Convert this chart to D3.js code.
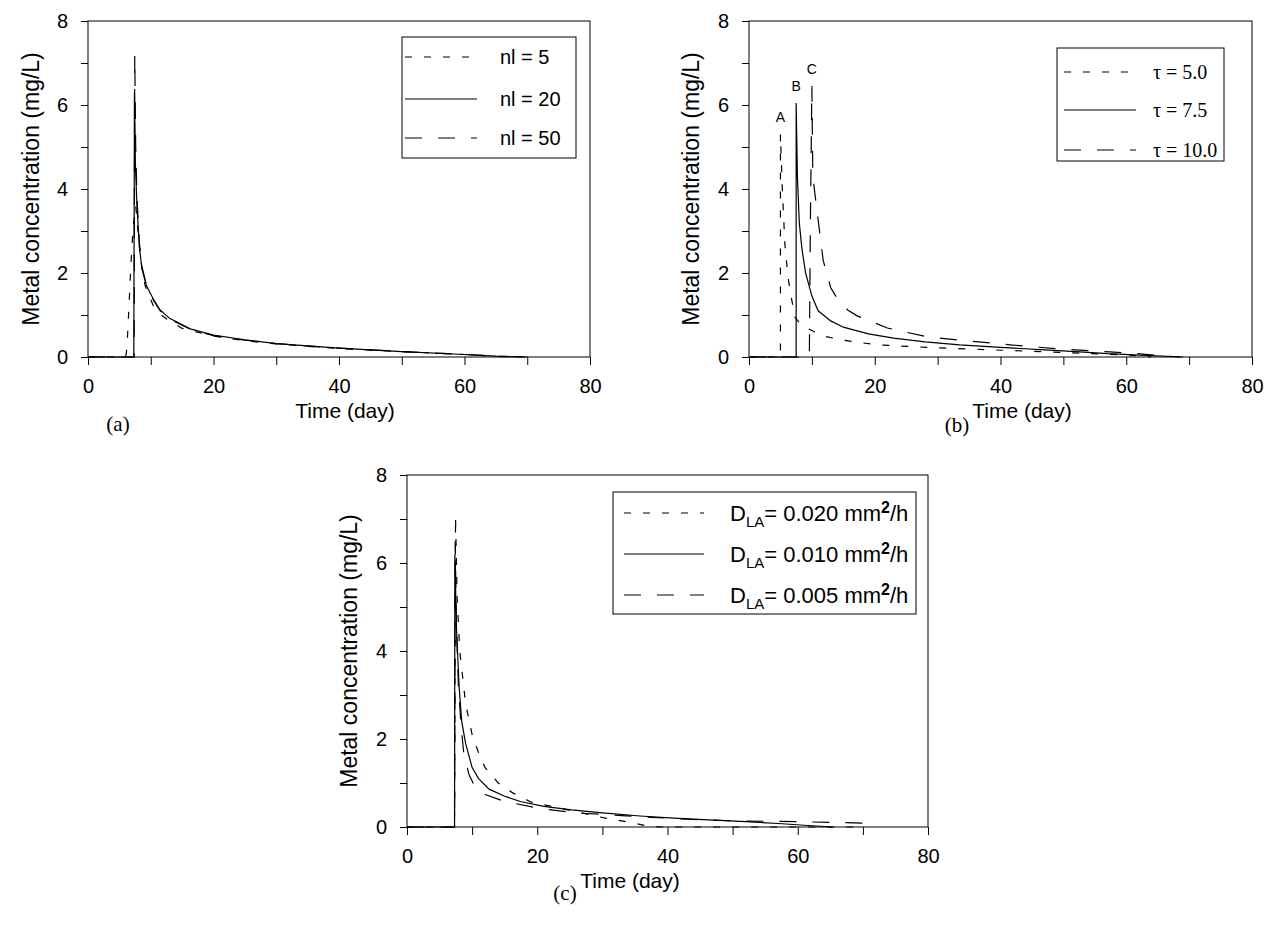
<!DOCTYPE html>
<html>
<head>
<meta charset="utf-8">
<script src="https://cdn.jsdelivr.net/npm/d3@7"></script>
<style>
  body { margin: 0; background: #fff; }
  svg { display: block; }
  text { font-family: Arial, "Liberation Sans", sans-serif; fill: #000; }
  .serif { font-family: "Times New Roman", "Liberation Serif", serif; }
</style>
</head>
<body>
<svg id="chart" width="1267" height="930"></svg>
<script>
// axis ticks (labelled and minor)
const xTicks = [0, 20, 40, 60, 80];
const xMinor = [0, 10, 20, 30, 40, 50, 60, 70, 80];
const yTicks = [0, 2, 4, 6, 8];
const yMinor = [0, 1, 2, 3, 4, 5, 6, 7, 8];

// panel (a): number of layers
const nl5 = [[0, 0], [6.0, 0], [6.2, 0.2], [6.5, 1.1], [6.8, 2.1], [7.2, 3.1], [7.6, 3.6], [7.9, 3.1], [8.4, 2.3],
  [9.1, 1.7], [10.4, 1.22], [11.5, 1.02], [12.6, 0.9], [15, 0.68], [20, 0.5], [25, 0.39], [30, 0.31],
  [40, 0.2], [50, 0.13], [60, 0.06], [66, 0.01], [70, 0]];
const nl20 = [[0, 0], [7.3, 0], [7.4, 6.3], [7.55, 4.6], [7.8, 3.6], [8.2, 2.6], [8.6, 2.1], [9.3, 1.7],
  [10.4, 1.38], [11.5, 1.12], [13, 0.92], [16.3, 0.67], [20, 0.52], [25, 0.41], [30, 0.32], [40, 0.21],
  [50, 0.13], [60, 0.06], [65, 0.02], [70, 0]];
const nl50 = [[0, 0], [7.35, 0], [7.45, 7.2], [7.6, 5.0], [7.8, 3.8], [8.2, 2.7], [8.6, 2.15], [9.3, 1.72],
  [10.4, 1.36], [11.5, 1.1], [13, 0.9], [16.3, 0.66], [20, 0.51], [25, 0.4], [30, 0.32], [40, 0.21],
  [50, 0.13], [60, 0.06], [65, 0.02], [70, 0]];
const legendA = ['nl = 5', 'nl = 20', 'nl = 50'];

// panel (b): tau
const tau50 = [[0, 0], [5, 0], [5, 5.3], [5.3, 4.0], [5.7, 2.7], [6.2, 1.9], [6.8, 1.36], [7.3, 0.95], [8, 0.82],
  [9.2, 0.69], [11.8, 0.5], [15, 0.4], [20.3, 0.29], [28.3, 0.23], [38.8, 0.17], [49.4, 0.11], [60, 0.05], [64, 0]];
const tau75 = [[0, 0], [7.5, 0], [7.5, 6.05], [7.7, 4.3], [8.0, 3.2], [8.4, 2.6], [9, 2.0], [10, 1.45], [11, 1.1],
  [13, 0.86], [15, 0.71], [19, 0.55], [23, 0.45], [28, 0.36], [33.5, 0.29], [40, 0.23], [47, 0.17], [52, 0.13],
  [57, 0.08], [63, 0.04], [69, 0]];
const tau100 = [[0, 0], [9.6, 0], [9.75, 3.0], [10, 6.45], [10.15, 4.3], [10.8, 3.5], [11.8, 2.3], [13, 1.65],
  [14, 1.4], [15.7, 1.12], [17.2, 0.98], [22, 0.69], [28.3, 0.48], [33.5, 0.4], [41.5, 0.29], [49.4, 0.19],
  [57.4, 0.12], [62.6, 0.07], [68.5, 0]];
const legendB = ['τ = 5.0', 'τ = 7.5', 'τ = 10.0'];
const peakLabels = [['A', 5, 5.3], ['B', 7.5, 6.05], ['C', 10, 6.45]];

// panel (c): D_LA
const d020 = [[0, 0], [7.3, 0], [7.45, 7.05], [7.7, 5.2], [8.1, 4.0], [9, 2.8], [10, 2.1], [11.2, 1.6], [12, 1.35],
  [14, 1.0], [16.3, 0.77], [19, 0.57], [23, 0.44], [26.2, 0.34], [30.5, 0.2], [34.8, 0.09], [37, 0.02], [39, 0], [70, 0]];
const d010 = [[0, 0], [7.3, 0], [7.35, 6.2], [7.6, 4.5], [8, 3.2], [8.4, 2.4], [9, 1.9], [10, 1.35], [11, 1.1],
  [12.6, 0.86], [15, 0.7], [17.4, 0.58], [21, 0.47], [25.3, 0.39], [30, 0.32], [35.8, 0.25], [41, 0.2],
  [46.3, 0.16], [52, 0.12], [57, 0.08], [61, 0.04], [65.3, 0]];
const d005 = [[0, 0], [7.3, 0], [7.4, 6.5], [7.6, 4.5], [7.9, 3.2], [8.3, 2.3], [8.7, 1.7], [9.5, 1.2], [10.4, 0.92],
  [12, 0.74], [15, 0.58], [20.5, 0.42], [26, 0.32], [33, 0.26], [40, 0.2], [44, 0.17], [50, 0.14], [60, 0.12], [70, 0.09]];
const legendC = ['0.020', '0.010', '0.005'];

const dashes = { short: '7,12', solid: null, long: '17,16' };

const svg = d3.select('#chart');

const panels = [
  {
    name: '(a)', left: 88, right: 590, top: 21, bottom: 357,
    series: [[nl5, 'short'], [nl20, 'solid'], [nl50, 'long']],
    yTitleX: 31, xTitleX: 345, xTitleY: 411, tagX: 118, tagY: 424,
    legend: { x: 402, y: 37, w: 174, h: 121, lineX: 405, lineW: 72, textX: 500, rows: [57, 99, 138], labels: legendA, kind: 'plain' }
  },
  {
    name: '(b)', left: 749, right: 1252, top: 21, bottom: 357,
    series: [[tau50, 'short'], [tau75, 'solid'], [tau100, 'long']],
    yTitleX: 691, xTitleX: 1022, xTitleY: 411, tagX: 957, tagY: 425,
    legend: { x: 1057, y: 48, w: 167, h: 113, lineX: 1064, lineW: 72, textX: 1153, rows: [72, 110, 150], labels: legendB, kind: 'serif' },
    peaks: peakLabels
  },
  {
    name: '(c)', left: 407, right: 928, top: 475, bottom: 827,
    series: [[d020, 'short'], [d010, 'solid'], [d005, 'long']],
    yTitleX: 349, xTitleX: 630, xTitleY: 881, tagX: 565, tagY: 893,
    legend: { x: 613, y: 492, w: 303, h: 122, lineX: 624, lineW: 80, textX: 730, rows: [513, 554, 595], labels: legendC, kind: 'dla' }
  }
];

function drawPanel(p) {
  const x = d3.scaleLinear().domain([0, 80]).range([p.left, p.right]);
  const y = d3.scaleLinear().domain([0, 8]).range([p.bottom, p.top]);
  const g = svg.append('g');

  const line = d3.line().x(d => x(d[0])).y(d => y(d[1]));
  p.series.forEach(([data, style]) => {
    g.append('path')
      .datum(data)
      .attr('d', line)
      .attr('fill', 'none')
      .attr('stroke', '#000')
      .attr('stroke-width', 1.2)
      .attr('stroke-dasharray', dashes[style]);
  });

  // axes with outward ticks, labels only on the major values
  const xAxis = g.append('g')
    .attr('transform', `translate(0,${p.bottom})`)
    .call(d3.axisBottom(x).tickValues(xMinor).tickSize(8).tickSizeOuter(0).tickPadding(14)
      .tickFormat(d => xTicks.includes(d) ? d : ''));
  const yAxis = g.append('g')
    .attr('transform', `translate(${p.left},0)`)
    .call(d3.axisLeft(y).tickValues(yMinor).tickSize(7).tickSizeOuter(0).tickPadding(13)
      .tickFormat(d => yTicks.includes(d) ? d : ''));
  [xAxis, yAxis].forEach(a => {
    a.select('.domain').remove();
    a.attr('font-family', null).attr('font-size', 20);
    a.selectAll('line').attr('stroke', '#000');
  });

  g.append('rect')
    .attr('x', p.left).attr('y', p.top)
    .attr('width', p.right - p.left).attr('height', p.bottom - p.top)
    .attr('fill', 'none').attr('stroke', '#000').attr('stroke-width', 1);

  g.append('text')
    .attr('x', p.xTitleX).attr('y', p.xTitleY).attr('dy', '0.35em')
    .attr('text-anchor', 'middle').attr('font-size', 21)
    .text('Time (day)');
  g.append('text')
    .attr('transform', `translate(${p.yTitleX},${(p.top + p.bottom) / 2}) rotate(-90)`)
    .attr('dy', '0.35em')
    .attr('text-anchor', 'middle').attr('font-size', 23)
    .text('Metal concentration (mg/L)');
  g.append('text')
    .attr('class', 'serif')
    .attr('x', p.tagX).attr('y', p.tagY).attr('dy', '0.35em')
    .attr('text-anchor', 'middle').attr('font-size', 21)
    .text(p.name);

  if (p.peaks) {
    g.selectAll('.peak').data(p.peaks).enter().append('text')
      .attr('x', d => x(d[1])).attr('y', d => y(d[2]) - 17).attr('dy', '0.35em')
      .attr('text-anchor', 'middle').attr('font-size', 14)
      .text(d => d[0]);
  }

  // legend
  const L = p.legend;
  g.append('rect')
    .attr('x', L.x).attr('y', L.y).attr('width', L.w).attr('height', L.h)
    .attr('fill', '#fff').attr('stroke', '#000').attr('stroke-width', 1);
  p.series.forEach(([, style], i) => {
    g.append('line')
      .attr('x1', L.lineX).attr('x2', L.lineX + L.lineW)
      .attr('y1', L.rows[i]).attr('y2', L.rows[i])
      .attr('stroke', '#000').attr('stroke-width', 1.2)
      .attr('stroke-dasharray', dashes[style]);
    const t = g.append('text').attr('x', L.textX).attr('y', L.rows[i]).attr('dy', '0.35em');
    if (L.kind === 'plain') {
      t.attr('font-size', 20).text(L.labels[i]);
    } else if (L.kind === 'serif') {
      t.attr('class', 'serif').attr('font-size', 20).text(L.labels[i]);
    } else {
      t.attr('font-size', 22);
      t.append('tspan').text('D');
      t.append('tspan').attr('font-size', 15).attr('dy', 6).text('LA');
      t.append('tspan').attr('dy', -6).text('= ' + L.labels[i] + ' mm');
      t.append('tspan').attr('font-size', 16).attr('font-weight', 'bold').attr('dy', -8).text('2');
      t.append('tspan').attr('dy', 8).text('/h');
    }
  });
}

panels.forEach(drawPanel);
</script>
</body>
</html>
